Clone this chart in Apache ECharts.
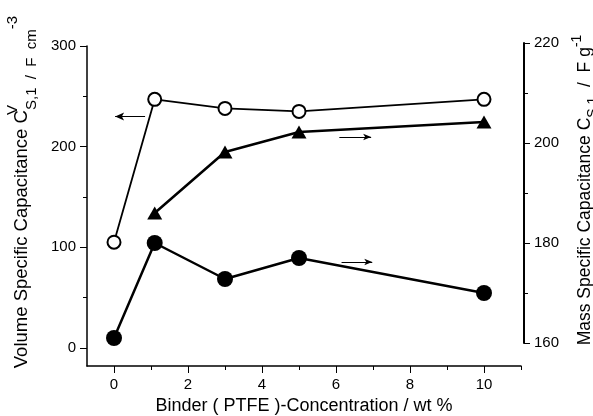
<!DOCTYPE html>
<html>
<head>
<meta charset="utf-8">
<script src="https://cdn.jsdelivr.net/npm/echarts@6/dist/echarts.min.js"></script>
<style>
  html, body { margin: 0; padding: 0; background: #fff; }
  #main { width: 593px; height: 416px; }
</style>
</head>
<body>
<div id="main"></div>
<script>
// binder concentration (wt %) of each measured electrode
var binderVol = [0, 1.1, 3, 5, 10]
var binderMass = [0, 1.1, 3, 5, 10]
var binderTri = [1.1, 3, 5, 10]

// volume specific capacitance, F cm-3 (open circles, left axis)
var volCap = [105, 247, 238, 235, 247]
// mass specific capacitance, F g-1 (filled circles, right axis)
var massCapA = [161, 180, 172.8, 177, 170]
// mass specific capacitance, F g-1 (triangles, right axis)
var massCapB = [186, 198.2, 202.2, 204.2]

var xMajor = [0, 2, 4, 6, 8, 10]
var xMinor = [1, 3, 5, 7, 9, 11]
var yLeftMajor = [0, 100, 200, 300]
var yLeftMinor = [50, 150, 250]

function pairs(xs, ys) {
    var out = []
    for (var i = 0; i < xs.length; i++) {
        out.push([xs[i], ys[i]])
    }
    return out
}

var FONT = 'Liberation Sans, Arial, sans-serif'
var leftRich = {
    t: { fontSize: 18.5, fontFamily: FONT, color: '#000', lineHeight: 34 },
    supz: { fontSize: 15, fontFamily: FONT, color: '#000', verticalAlign: 'top', lineHeight: 15, width: 0.1 },
    sup: { fontSize: 15, fontFamily: FONT, color: '#000', verticalAlign: 'top', lineHeight: 15 },
    sub: { fontSize: 15, fontFamily: FONT, color: '#000', verticalAlign: 'bottom', lineHeight: 15 }
}
var rightRich = {
    t: { fontSize: 17.5, fontFamily: FONT, color: '#000', lineHeight: 30 },
    sup: { fontSize: 14, fontFamily: FONT, color: '#000', verticalAlign: 'top', lineHeight: 14 },
    sub: { fontSize: 14, fontFamily: FONT, color: '#000', verticalAlign: 'bottom', lineHeight: 14 }
}

var myChart = echarts.init(document.getElementById('main'))

var option = {
    animation: false,
    backgroundColor: '#fff',
    textStyle: { fontFamily: FONT },
    grid: [
        { left: 87, right: 72, top: 46, bottom: 50, outerBoundsMode: 'none' },
        { left: 87, right: 72, top: 43, bottom: 73, outerBoundsMode: 'none' }
    ],
    xAxis: [
        {
            gridIndex: 0, type: 'value', min: -0.73, max: 11,
            name: 'Binder ( PTFE )-Concentration / wt %',
            nameLocation: 'middle', nameGap: 30,
            nameTextStyle: { fontSize: 18, color: '#000', fontFamily: FONT },
            axisLine: { onZero: false, lineStyle: { color: '#000', width: 1.5 } },
            axisTick: { customValues: xMajor, length: 7, lineStyle: { color: '#000', width: 1 } },
            axisLabel: { customValues: xMajor, margin: 11, fontSize: 15, color: '#000', fontFamily: FONT },
            splitLine: { show: false }
        },
        {
            gridIndex: 0, type: 'value', min: -0.73, max: 11, position: 'bottom',
            axisLine: { show: false, onZero: false },
            axisTick: { customValues: xMinor, length: 4, lineStyle: { color: '#000', width: 1 } },
            axisLabel: { show: false },
            splitLine: { show: false }
        },
        {
            gridIndex: 1, type: 'value', min: -0.73, max: 11, show: false,
            axisLine: { onZero: false }
        }
    ],
    yAxis: [
        {
            gridIndex: 0, type: 'value', min: -18, max: 300, position: 'left',
            name: '{t|Volume Specific Capacitance C}{supz|V}{sub|S,1  /  F  cm}{sup|-3}',
            nameLocation: 'middle', nameRotate: 90, nameGap: 48,
            nameTextStyle: { rich: leftRich, padding: [0, 0, 0, 28] },
            axisLine: { show: true, onZero: false, lineStyle: { color: '#000', width: 1.5 } },
            axisTick: { customValues: yLeftMajor, length: 7, lineStyle: { color: '#000', width: 1 } },
            axisLabel: { customValues: yLeftMajor, margin: 11, fontSize: 15, color: '#000', fontFamily: FONT },
            splitLine: { show: false }
        },
        {
            gridIndex: 0, type: 'value', min: -18, max: 300, position: 'left',
            axisLine: { show: false, onZero: false },
            axisTick: { customValues: yLeftMinor, length: 4, lineStyle: { color: '#000', width: 1 } },
            axisLabel: { show: false },
            splitLine: { show: false }
        },
        {
            gridIndex: 1, type: 'value', min: 160, max: 220, interval: 20, position: 'right', offset: 3,
            name: '{t|Mass Specific Capacitance C}{sub|S,1}{t|  /  F g}{sup|-1}',
            nameLocation: 'middle', nameRotate: 90, nameGap: 33,
            nameTextStyle: { rich: rightRich, padding: [0, 0, 0, 6] },
            axisLine: { show: true, onZero: false, lineStyle: { color: '#000', width: 2 } },
            axisTick: { length: 6, lineStyle: { color: '#000', width: 1 } },
            minorTick: { show: true, splitNumber: 2, length: 4, lineStyle: { color: '#000', width: 1 } },
            axisLabel: { margin: 10, fontSize: 15, color: '#000', fontFamily: FONT },
            splitLine: { show: false }
        }
    ],
    series: [
        {
            name: 'volume', type: 'line', xAxisIndex: 0, yAxisIndex: 0,
            data: pairs(binderVol, volCap),
            symbol: 'circle', symbolSize: 13,
            itemStyle: { color: '#fff', borderColor: '#000', borderWidth: 2 },
            lineStyle: { color: '#000', width: 1.8 },
            markLine: {
                silent: true, symbol: ['none', 'arrow'], symbolSize: [6, 9],
                label: { show: false },
                lineStyle: { color: '#000', width: 1, type: 'solid' },
                data: [[{ coord: [0.84, 230] }, { coord: [0.03, 230] }]]
            }
        },
        {
            name: 'mass triangles', type: 'line', xAxisIndex: 2, yAxisIndex: 2,
            data: pairs(binderTri, massCapB),
            symbol: 'triangle', symbolSize: [15, 13],
            itemStyle: { color: '#000' },
            lineStyle: { color: '#000', width: 2.5 },
            markLine: {
                silent: true, symbol: ['none', 'arrow'], symbolSize: [5, 8],
                label: { show: false },
                lineStyle: { color: '#000', width: 1, type: 'solid' },
                data: [[{ coord: [6.09, 201.2] }, { coord: [6.95, 201.2] }]]
            }
        },
        {
            name: 'mass circles', type: 'line', xAxisIndex: 2, yAxisIndex: 2,
            data: pairs(binderMass, massCapA),
            symbol: 'circle', symbolSize: 16,
            itemStyle: { color: '#000' },
            lineStyle: { color: '#000', width: 2.5 },
            markLine: {
                silent: true, symbol: ['none', 'arrow'], symbolSize: [5, 8],
                label: { show: false },
                lineStyle: { color: '#000', width: 1, type: 'solid' },
                data: [[{ coord: [6.15, 176.2] }, { coord: [6.98, 176.2] }]]
            }
        }
    ]
}
myChart.setOption(option)
</script>
</body>
</html>
